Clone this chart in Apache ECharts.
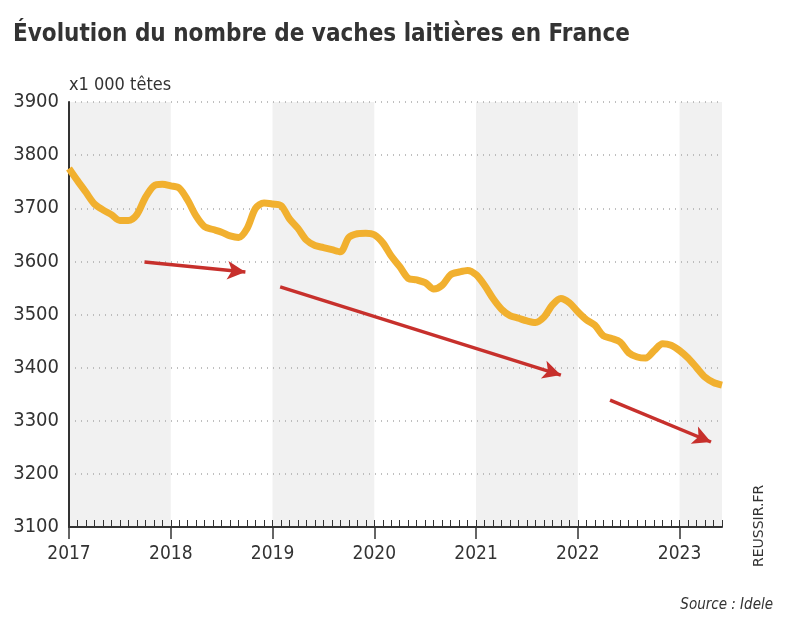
<!DOCTYPE html>
<html><head><meta charset="utf-8">
<script src="https://cdn.jsdelivr.net/npm/echarts@6/dist/echarts.min.js"></script>
<style>html,body{margin:0;padding:0;background:#fff}#c{width:785px;height:630px}</style>
</head><body><div id="c"></div>
<script>
// monthly values from Jan 2017 (index 0), x 1000 head
const values = [3775,3752,3730,3708,3697,3688,3677,3677,3688,3720,3742,3745,
3742,3738,3715,3685,3665,3660,3655,3648,3645,3662,3700,3710,
3708,3705,3680,3662,3640,3630,3626,3622,3618,3645,3652,3653,
3650,3635,3610,3590,3568,3565,3560,3548,3555,3575,3580,3583,
3575,3555,3530,3510,3498,3493,3488,3485,3495,3518,3530,3522,
3505,3490,3480,3460,3455,3448,3428,3420,3418,3432,3445,3442,
3432,3418,3400,3382,3372,3367];
const startYear = 2017;
const shadedYears = [[0,12],[24,36],[48,60],[72,77]];
// arrows: [monthStart, valueStart, monthEnd, valueEnd]
const arrows = [[8.9,3599,20.8,3580],[24.9,3552,58,3386],[63.8,3339,75.7,3260]];

const font = '"DejaVu Sans Condensed","DejaVu Sans",sans-serif';
const chart = echarts.init(document.getElementById('c'));
const grid = {left:69,right:63,top:102,bottom:103};
chart.setOption({
  animation:false,
  title:{text:'Évolution du nombre de vaches laitières en France',left:8,top:18,
    textStyle:{fontFamily:font,fontWeight:'bold',fontSize:24,color:'#333'}},
  graphic:[
    {type:'text',left:69,top:76,style:{text:'x1 000 têtes',fontFamily:font,fontSize:18,fill:'#333'}},
    {type:'text',x:752,y:567,rotation:Math.PI/2,style:{text:'REUSSIR.FR',fontFamily:'"DejaVu Sans",sans-serif',fontSize:14,fill:'#333',textAlign:'left',textVerticalAlign:'top'}},
    {type:'text',right:12,top:598,style:{text:'Source : Idele',fontFamily:font,fontStyle:'italic',fontSize:15,fill:'#333'}}
  ],
  grid:grid,
  xAxis:[{type:'value',min:0,max:77,interval:12,z:5,
    axisLine:{show:true,lineStyle:{color:'#333',width:2}},
    axisTick:{show:true,length:12,lineStyle:{color:'#333',width:1.5}},
    axisLabel:{showMaxLabel:false,margin:18,fontFamily:font,fontSize:19,color:'#333',formatter:v=>String(startYear+v/12)},
    splitLine:{show:false}},
   {type:'value',min:0,max:77,interval:1,position:'bottom',z:5,
    axisLine:{show:false},axisTick:{show:true,inside:true,length:7,lineStyle:{color:'#333',width:1}},
    axisLabel:{show:false},splitLine:{show:false}}],
  yAxis:{type:'value',min:3100,max:3900,interval:100,z:5,
    axisLine:{show:true,lineStyle:{color:'#333',width:2}},axisTick:{show:false},
    axisLabel:{fontFamily:font,fontSize:20,color:'#333',margin:10,formatter:v=>String(v)},
    splitLine:{show:true,lineStyle:{color:'#aaa',type:[1,5],width:1.5}}},
  series:[
    {type:'line',data:[],z:-1,zlevel:0,
     markArea:{silent:true,z:-1,itemStyle:{color:'#f1f1f1'},data:shadedYears.map(s=>[{xAxis:s[0]},{xAxis:s[1]}])}},
    {type:'line',data:values.map((v,i)=>[i,v]),showSymbol:false,smooth:0.3,
     lineStyle:{color:'#f1b02f',width:7},itemStyle:{color:'#f1b02f'},z:6,
     markLine:{silent:true,symbol:['none','arrow'],symbolSize:[14,18],label:{show:false},
       lineStyle:{color:'#c7302c',width:3.5,type:'solid'},
       data:arrows.map(a=>[{coord:[a[0],a[1]]},{coord:[a[2],a[3]]}])}}
  ]
});
</script></body></html>
